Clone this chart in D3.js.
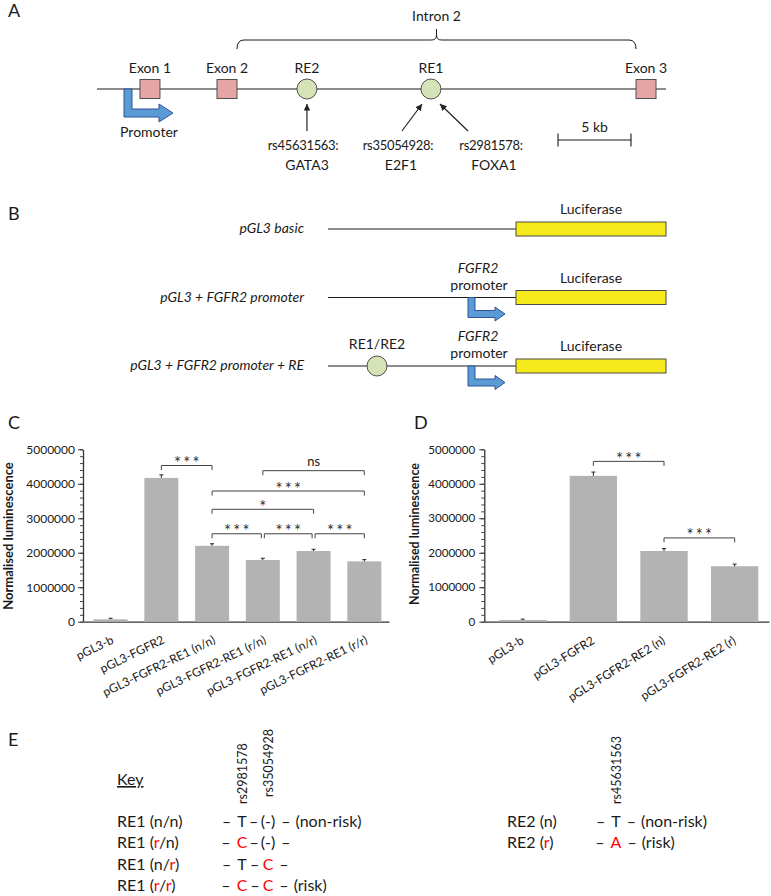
<!DOCTYPE html>
<html><head><meta charset="utf-8">
<script src="https://cdn.jsdelivr.net/npm/d3@7/dist/d3.min.js"></script>
<style>
html,body{margin:0;padding:0;background:#fff;}
svg{display:block;}
text{font-family:Lato,"Open Sans",sans-serif;fill:#1a1a1a;}
</style></head><body>
<svg id="fig" width="771" height="896"></svg>
<script>
// ================= DATA =================
// Panel A – gene model, positions in kb from the left end of the drawn locus
const locusLengthKb = 39;
const exonNames = ["Exon 1", "Exon 2", "Exon 3"];
const exonKb = [3.63, 8.91, 37.63];
const reNames = ["RE2", "RE1"];
const reKb = [14.39, 22.89];
const promoterKb = 1.85;
const intronLabel = "Intron 2";
const snpIds = ["rs45631563:", "rs35054928:", "rs2981578:"];
const snpTFs = ["GATA3", "E2F1", "FOXA1"];
const snpLabelKb = [14.12, 20.63, 27.0];
const snpArrowFromKb = [14.39, 20.9, 25.43];
const snpArrowToKb = [14.39, 22.28, 23.51];
const scaleBarKb = [31.6, 36.6];
const scaleBarLabel = "5 kb";

// Panel B – reporter constructs
const constructNames = ["pGL3 basic", "pGL3 + FGFR2 promoter", "pGL3 + FGFR2 promoter + RE"];
const constructHasPromoter = [false, true, true];
const constructHasRE = [false, false, true];
const reporterName = "Luciferase";
const reLabel = "RE1/RE2";

// Shared y ticks for C and D
const yTicks = [0, 1000000, 2000000, 3000000, 4000000, 5000000];
const yMinorStep = 200000;
const yTitle = "Normalised luminescence";

// Panel C – RE1 constructs
const cCategories = ["pGL3-b", "pGL3-FGFR2", "pGL3-FGFR2-RE1 (n/n)", "pGL3-FGFR2-RE1 (r/n)", "pGL3-FGFR2-RE1 (n/r)", "pGL3-FGFR2-RE1 (r/r)"];
const cValues = [70000, 4170000, 2200000, 1790000, 2050000, 1750000];
const cErrors = [30000, 90000, 60000, 50000, 50000, 50000];
// [from index, to index, label, bracket height (data units)]
const cSignif = [
  [1, 2, "***", 4530000],
  [3, 5, "ns", 4380000],
  [2, 5, "***", 3790000],
  [2, 4, "*", 3260000],
  [2, 3, "***", 2550000],
  [3, 4, "***", 2550000],
  [4, 5, "***", 2550000]
];

// Panel D – RE2 constructs
const dCategories = ["pGL3-b", "pGL3-FGFR2", "pGL3-FGFR2-RE2 (n)", "pGL3-FGFR2-RE2 (r)"];
const dValues = [50000, 4230000, 2050000, 1610000];
const dErrors = [25000, 110000, 70000, 60000];
const dSignif = [
  [1, 2, "***", 4650000],
  [2, 3, "***", 2430000]
];

// Panel E – haplotype key
const re1Snps = ["rs2981578", "rs35054928"];
const re1Alleles = { n: ["T", "(-)"], r: ["C", "C"] };
const re1Genotypes = [["n", "n"], ["r", "n"], ["n", "r"], ["r", "r"]];
const re2Snps = ["rs45631563"];
const re2Alleles = { n: ["T"], r: ["A"] };
const re2Genotypes = [["n"], ["r"]];
const nonRiskLabel = "(non-risk)";
const riskLabel = "(risk)";

// ================= DRAWING =================
const ink = "#1a1a1a";
const red = "#ff0000";
const svg = d3.select("#fig");

const defs = svg.append("defs");
defs.append("marker").attr("id", "ah").attr("viewBox", "0 0 10 10")
  .attr("refX", 10).attr("refY", 5).attr("markerWidth", 5.5).attr("markerHeight", 5.5)
  .attr("orient", "auto").append("path").attr("d", "M0,0 L10,5 L0,10 z").attr("fill", "#222");

// panel letters
[["A", 8, 17], ["B", 8, 220], ["C", 8, 429], ["D", 414, 429], ["E", 8, 746]].forEach(([l, x, y]) =>
  svg.append("text").attr("x", x).attr("y", y).style("font-size", "18px").text(l));

function bentArrow(x, y, v, w, hLen, hh, headLen) {
  const hb = x + hLen, tip = hb + headLen, cy = y + v - w / 2;
  return `M${x},${y} L${x},${y + v} L${hb},${y + v} L${hb},${cy + hh / 2} L${tip},${cy} L${hb},${cy - hh / 2} L${hb},${y + v - w} L${x + w},${y + v - w} L${x + w},${y} Z`;
}

// ---------- Panel A ----------
(function () {
  const xA = d3.scaleLinear().domain([0, locusLengthKb]).range([97, 666]);
  const yA = 89;
  const g = svg.append("g");
  g.append("line").attr("x1", xA(0)).attr("x2", xA(locusLengthKb)).attr("y1", yA).attr("y2", yA)
    .attr("stroke", ink).attr("stroke-width", 1.1);
  g.append("path").attr("d", bentArrow(xA(promoterKb), yA, 28, 8, 35, 18, 14))
    .attr("fill", "#5b9bd5").attr("stroke", "#2f5597").attr("stroke-width", 1);
  g.append("text").attr("x", 149).attr("y", 137).attr("text-anchor", "middle").style("font-size", "14px").text("Promoter");

  exonKb.forEach((k, i) => {
    g.append("rect").attr("x", xA(k) - 10).attr("y", yA - 9.5).attr("width", 20).attr("height", 19)
      .attr("fill", "#e6a5a5").attr("stroke", "#505050").attr("stroke-width", 1);
    g.append("text").attr("x", xA(k)).attr("y", yA - 16).attr("text-anchor", "middle").style("font-size", "14px").text(exonNames[i]);
  });
  reKb.forEach((k, i) => {
    g.append("circle").attr("cx", xA(k)).attr("cy", yA).attr("r", 10)
      .attr("fill", "#d5e3b7").attr("stroke", "#505050").attr("stroke-width", 1);
    g.append("text").attr("x", xA(k)).attr("y", yA - 16).attr("text-anchor", "middle").style("font-size", "14px").text(reNames[i]);
  });

  // intron brace
  const bx0 = xA(exonKb[1]) + 10, bx1 = xA(exonKb[2]) - 10, bm = (bx0 + bx1) / 2;
  const by = 40;
  g.append("path").attr("d",
    `M${bx0},${by + 9} Q${bx0},${by} ${bx0 + 7},${by} L${bm - 5},${by} Q${bm},${by} ${bm},${by - 5} L${bm},${by - 11} M${bm},${by - 5} Q${bm},${by} ${bm + 5},${by} L${bx1 - 7},${by} Q${bx1},${by} ${bx1},${by + 9}`)
    .attr("fill", "none").attr("stroke", ink).attr("stroke-width", 1);
  g.append("text").attr("x", bm).attr("y", 21).attr("text-anchor", "middle").style("font-size", "14px").text(intronLabel);

  snpIds.forEach((s, i) => {
    g.append("line").attr("x1", xA(snpArrowFromKb[i])).attr("y1", 131).attr("x2", xA(snpArrowToKb[i])).attr("y2", 104)
      .attr("stroke", "#222").attr("stroke-width", 1.2).attr("marker-end", "url(#ah)");
    g.append("text").attr("x", xA(snpLabelKb[i])).attr("y", 150).attr("text-anchor", "middle")
      .style("font-size", "13px").style("letter-spacing", "-0.3px").text(s);
    g.append("text").attr("x", xA(snpLabelKb[i]) + (i === 0 ? 4 : 3)).attr("y", 170).attr("text-anchor", "middle")
      .style("font-size", "14px").text(snpTFs[i]);
  });

  const sx0 = xA(scaleBarKb[0]), sx1 = xA(scaleBarKb[1]);
  g.append("path").attr("d", `M${sx0},133.5 V146.5 M${sx0},140 H${sx1} M${sx1},133.5 V146.5`)
    .attr("fill", "none").attr("stroke", ink).attr("stroke-width", 1.1);
  g.append("text").attr("x", (sx0 + sx1) / 2).attr("y", 132).attr("text-anchor", "middle").style("font-size", "14px").text(scaleBarLabel);
})();

// ---------- Panel B ----------
(function () {
  const g = svg.append("g");
  const rowY = d3.scalePoint().domain(constructNames).range([229, 366]);
  const lineStart = 328, lucStart = 516, lucEnd = 666, promX = 468, reX = 377, labelX = 304;
  constructNames.forEach((name, i) => {
    const y = rowY(name);
    g.append("text").attr("x", labelX).attr("y", y + 4).attr("text-anchor", "end")
      .style("font-size", "14px").style("font-style", "italic").text(name);
    g.append("line").attr("x1", lineStart).attr("x2", lucStart).attr("y1", y).attr("y2", y)
      .attr("stroke", ink).attr("stroke-width", 1.1);
    g.append("rect").attr("x", lucStart).attr("y", y - 7).attr("width", lucEnd - lucStart).attr("height", 14)
      .attr("fill", "#f7ea1c").attr("stroke", "#4a4a4a").attr("stroke-width", 1);
    g.append("text").attr("x", (lucStart + lucEnd) / 2).attr("y", y - 15).attr("text-anchor", "middle")
      .style("font-size", "14px").text(reporterName);
    if (constructHasPromoter[i]) {
      g.append("path").attr("d", bentArrow(promX, y, 20, 7, 27, 14, 10))
        .attr("fill", "#5b9bd5").attr("stroke", "#2f5597").attr("stroke-width", 1);
      g.append("text").attr("x", promX + 10).attr("y", y - 25).attr("text-anchor", "middle")
        .style("font-size", "14px").style("font-style", "italic").text("FGFR2");
      g.append("text").attr("x", promX + 11).attr("y", y - 8).attr("text-anchor", "middle")
        .style("font-size", "14px").text("promoter");
    }
    if (constructHasRE[i]) {
      g.append("circle").attr("cx", reX).attr("cy", y).attr("r", 10)
        .attr("fill", "#d5e3b7").attr("stroke", "#505050").attr("stroke-width", 1);
      g.append("text").attr("x", reX).attr("y", y - 17).attr("text-anchor", "middle")
        .style("font-size", "14px").text(reLabel);
    }
  });
})();

// ---------- Panels C & D ----------
function barChart(cfg) {
  const g = svg.append("g");
  const y = d3.scaleLinear().domain([0, yTicks[yTicks.length - 1]]).range([cfg.y0, cfg.y1]);
  const x = d3.scaleBand().domain(cfg.cats).range([cfg.ax, cfg.axEnd])
    .paddingInner(0.33).paddingOuter(0.18).align(0.58);

  // minor ticks
  g.append("g").attr("transform", `translate(${cfg.ax},0)`)
    .call(d3.axisLeft(y).tickValues(d3.range(0, yTicks[yTicks.length - 1] + 1, yMinorStep)).tickSize(3).tickFormat(""))
    .call(s => s.select(".domain").remove())
    .attr("color", "#444");
  // major ticks + labels
  const ya = g.append("g").attr("transform", `translate(${cfg.ax},0)`)
    .call(d3.axisLeft(y).tickValues(yTicks).tickSize(5).tickSizeOuter(0).tickPadding(cfg.tickPad).tickFormat(d3.format("d")))
    .attr("color", "#333");
  ya.select(".domain").attr("stroke-width", 1.3);
  ya.selectAll("text").style("font-size", cfg.tickFs + "px").style("fill", ink);

  // x axis line
  const xa = g.append("g").attr("transform", `translate(0,${cfg.y0})`)
    .call(d3.axisBottom(x).tickSize(0).tickSizeOuter(0).tickFormat(""))
    .attr("color", "#333");
  xa.select(".domain").attr("stroke-width", 1.3);

  // bars
  g.selectAll("rect.bar").data(cfg.cats).join("rect").attr("class", "bar")
    .attr("x", d => x(d)).attr("width", x.bandwidth())
    .attr("y", (d, i) => y(cfg.vals[i])).attr("height", (d, i) => y(0) - y(cfg.vals[i]))
    .attr("fill", "#b3b3b3");
  // error bars
  cfg.cats.forEach((c, i) => {
    const cx = x(c) + x.bandwidth() / 2, t = y(cfg.vals[i] + cfg.errs[i]);
    g.append("path").attr("d", `M${cx},${y(cfg.vals[i])} V${t} M${cx - 2},${t} H${cx + 2}`)
      .attr("stroke", "#222").attr("stroke-width", 1).attr("fill", "none");
  });
  // rotated category labels
  cfg.cats.forEach(c => {
    const cx = x(c) + x.bandwidth() / 2 + cfg.lblDx;
    g.append("text").attr("transform", `translate(${cx},${cfg.y0 + cfg.lblDy}) rotate(${cfg.angle})`)
      .attr("text-anchor", "end").style("font-size", "12px").text(c);
  });
  // y title
  g.append("text").attr("transform", `translate(${cfg.titleX},${cfg.titleY}) rotate(-90)`)
    .attr("text-anchor", "middle").style("font-size", cfg.titleFs + "px").style("font-weight", "bold").text(yTitle);

  // significance brackets
  const cen = i => x(cfg.cats[i]) + x.bandwidth() / 2;
  cfg.sig.forEach(s => {
    const [a, b, lab, h] = s;
    const hasRightNeighbour = cfg.sig.some(t => t !== s && t[3] === h && t[0] === b);
    const hasLeftNeighbour = cfg.sig.some(t => t !== s && t[3] === h && t[1] === a);
    const x1 = cen(a) + (hasLeftNeighbour ? 1.5 : 0), x2 = cen(b) - (hasRightNeighbour ? 1.5 : 0);
    const yy = y(h);
    g.append("path").attr("d", `M${x1},${yy + 4.5} V${yy} H${x2} V${yy + 4.5}`)
      .attr("fill", "none").attr("stroke", "#444").attr("stroke-width", 1);
    if (lab === "ns") {
      g.append("text").attr("x", (x1 + x2) / 2).attr("y", yy - 4.5).attr("text-anchor", "middle")
        .style("font-size", "13px").text(lab);
    } else {
      g.append("text").attr("x", (x1 + x2) / 2).attr("dx", 1.1).attr("y", yy + 3.5).attr("text-anchor", "middle")
        .style("font-size", "16.5px").style("letter-spacing", "2.2px").style("fill", "#333").text(lab);
    }
  });
}

barChart({ cats: cCategories, vals: cValues, errs: cErrors, sig: cSignif,
  ax: 83, axEnd: 389, y0: 621.7, y1: 449.3, tickPad: 3, tickFs: 12,
  lblDx: 4, lblDy: 21, angle: -26, titleX: 12.5, titleY: 536, titleFs: 13 });
barChart({ cats: dCategories, vals: dValues, errs: dErrors, sig: dSignif,
  ax: 484.3, axEnd: 769, y0: 621.7, y1: 449.3, tickPad: 4, tickFs: 11.6,
  lblDx: 2, lblDy: 21, angle: -32, titleX: 419, titleY: 534, titleFs: 12.5 });

// ---------- Panel E ----------
(function () {
  const g = svg.append("g");
  const fs = 16, gap = 5;
  const rowBase = [826.5, 848, 869.5, 891];
  g.append("text").attr("x", 117).attr("y", 785).style("font-size", fs + "px")
    .style("text-decoration", "underline").text("Key");

  function measure(str) {
    const t = g.append("text").style("font-size", fs + "px").text(str);
    const w = t.node().getComputedTextLength(); t.remove(); return w;
  }
  const dashW = measure("–");

  function seqRow(cols, alleles, risk, yb, suffix) {
    const widths = alleles.map(measure);
    alleles.forEach((a, i) => g.append("text").attr("x", cols[i]).attr("y", yb).attr("text-anchor", "middle")
      .style("font-size", fs + "px").style("fill", risk[i] ? red : ink).text(a));
    const dx = [cols[0] - widths[0] / 2 - gap - dashW / 2 - 1];
    for (let i = 0; i < cols.length - 1; i++) {
      dx.push(((cols[i] + widths[i] / 2) + (cols[i + 1] - widths[i + 1] / 2)) / 2);
    }
    const lastR = cols[cols.length - 1] + widths[cols.length - 1] / 2;
    dx.push(lastR + gap + dashW / 2 + 1);
    dx.forEach(x => g.append("text").attr("x", x).attr("y", yb).attr("text-anchor", "middle")
      .style("font-size", fs + "px").text("–"));
    if (suffix) g.append("text").attr("x", lastR + gap + dashW + gap + 1).attr("y", yb)
      .style("font-size", fs + "px").text(suffix);
  }

  function rowLabel(x, yb, name, geno) {
    const t = g.append("text").attr("x", x).attr("y", yb).style("font-size", fs + "px");
    t.append("tspan").text(name + " (");
    geno.forEach((gt, i) => {
      if (i > 0) t.append("tspan").text("/");
      t.append("tspan").style("fill", gt === "r" ? red : ink).text(gt);
    });
    t.append("tspan").text(")");
  }

  function snpHeaders(cols, names, bottoms) {
    names.forEach((n, i) => g.append("text")
      .attr("transform", `translate(${cols[i]},${bottoms[i]}) rotate(-90)`)
      .attr("dominant-baseline", "central").style("font-size", "12.5px").text(n));
  }

  // RE1 block
  const re1Cols = d3.scalePoint().domain(re1Snps).range([242, 268]);
  snpHeaders(re1Snps.map(re1Cols), re1Snps, [804, 797]);
  re1Genotypes.forEach((gt, r) => {
    rowLabel(117, rowBase[r], "RE1", gt);
    const alle = gt.map((a, i) => re1Alleles[a][i]);
    const allN = gt.every(a => a === "n"), allR = gt.every(a => a === "r");
    seqRow(re1Snps.map(re1Cols), alle, gt.map(a => a === "r"), rowBase[r], allN ? nonRiskLabel : (allR ? riskLabel : null));
  });

  // RE2 block
  const re2Col = [616];
  snpHeaders(re2Col, re2Snps, [804]);
  re2Genotypes.forEach((gt, r) => {
    rowLabel(507, rowBase[r], "RE2", gt);
    const alle = gt.map((a, i) => re2Alleles[a][i]);
    seqRow(re2Col, alle, gt.map(a => a === "r"), rowBase[r], gt[0] === "n" ? nonRiskLabel : riskLabel);
  });
})();
</script>
</body></html>
